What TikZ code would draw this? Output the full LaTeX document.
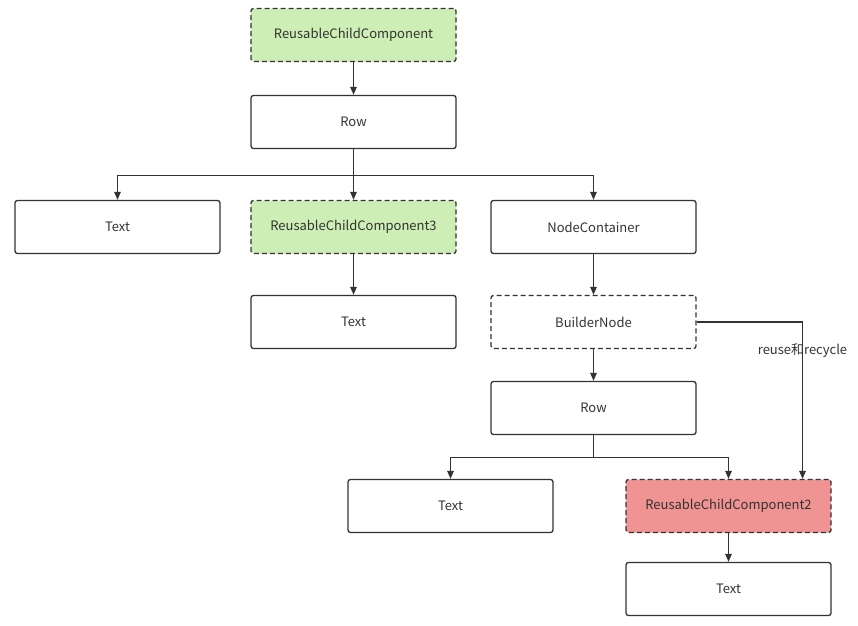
\documentclass[tikz,border=0pt]{standalone}
\usepackage{fontspec}
\setmainfont{Noto Sans CJK SC}
\usetikzlibrary{arrows.meta}
\definecolor{linegray}{HTML}{333333}
\definecolor{reusegreen}{HTML}{CDEEB4}
\definecolor{recyclered}{HTML}{F09393}
\tikzset{
  box/.style={draw=linegray,line width=1.3pt,rounded corners=2.5pt,minimum width=205pt,
    minimum height=53pt,inner sep=0pt,font=\fontsize{13}{15}\selectfont,text=linegray},
  reusable/.style={box,dashed,dash pattern=on 5pt off 3pt,fill=reusegreen},
  link/.style={draw=linegray,line width=1.3pt,-{Triangle[length=8pt,width=6.5pt]}}
}
\begin{document}
\begin{tikzpicture}[x=1pt,y=-1pt]
  \useasboundingbox (0,0) rectangle (858,625);
  \node[reusable](rcc) at (353.5,35){ReusableChildComponent};
  \node[box](row) at (353.5,122){Row};
  \node[box](txta) at (117.5,227){Text};
  \node[reusable](rcc3) at (353.5,227){ReusableChildComponent3};
  \node[box](nc) at (593.5,227){NodeContainer};
  \node[box](txtb) at (353.5,322){Text};
  \node[box,dashed,dash pattern=on 5pt off 3pt](bn) at (593.5,322){BuilderNode};
  \node[box](rowb) at (593.5,408){Row};
  \node[box](txtc) at (450.5,506){Text};
  \node[reusable,fill=recyclered](rcc2) at (728.5,506){ReusableChildComponent2};
  \node[box](txtd) at (728.5,589){Text};

  \draw[link] (rcc) -- (row);
  \draw[link] (row.south) -- ++(0,26) -| (txta.north);
  \draw[link] (row) -- (rcc3);
  \draw[link] (row.south) -- ++(0,26) -| (nc.north);
  \draw[link] (rcc3) -- (txtb);
  \draw[link] (nc) -- (bn);
  \draw[link] (bn) -- (rowb);
  \draw[link] (rowb.south) -- ++(0,22) -| (txtc.north);
  \draw[link] (rowb.south) -- ++(0,22) -| (rcc2.north);
  \draw[link] (bn.east) -| ([xshift=74pt]rcc2.north)
    node[pos=0.59,font=\fontsize{13}{15}\selectfont,text=linegray]{reuse和recycle};
  \draw[link] (rcc2) -- (txtd);
\end{tikzpicture}
\end{document}
